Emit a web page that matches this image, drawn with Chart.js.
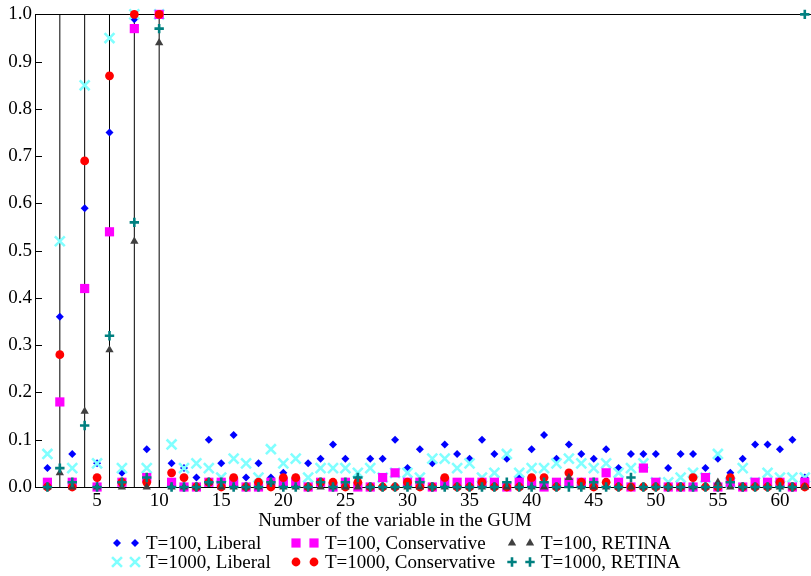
<!DOCTYPE html>
<html>
<head>
<meta charset="utf-8">
<title>Selection frequency per GUM variable</title>
<script src="https://cdn.jsdelivr.net/npm/chart.js@4.4.1/dist/chart.umd.min.js"></script>
<style>
	html, body { margin: 0; padding: 0; overflow: hidden; background: #ffffff; }
	canvas { display: block; }
</style>
</head>
<body>
<canvas id="canvas" width="811" height="576"></canvas>
<script>

// variables that really belong to the GUM (vertical markers)
const relevant_vars = [2, 4, 6, 8, 10];
const x_tick_values = [5, 10, 15, 20, 25, 30, 35, 40, 45, 50, 55, 60];

// selection frequency per variable 1..62
const liberal_100 = [
	0.04, 0.36, 0.07, 0.59, 0.05, 0.75, 0.03, 0.99, 0.08, 1.00,
	0.05, 0.04, 0.02, 0.10, 0.05, 0.11, 0.02, 0.05, 0.02, 0.03,
	0.02, 0.05, 0.06, 0.09, 0.06, 0.02, 0.06, 0.06, 0.10, 0.04,
	0.08, 0.05, 0.09, 0.07, 0.06, 0.10, 0.07, 0.06, 0.02, 0.08,
	0.11, 0.06, 0.09, 0.07, 0.06, 0.08, 0.04, 0.07, 0.07, 0.07,
	0.04, 0.07, 0.07, 0.04, 0.06, 0.03, 0.06, 0.09, 0.09, 0.08,
	0.10, 0.02
];
const liberal_1000 = [
	0.07, 0.52, 0.04, 0.85, 0.05, 0.95, 0.04, 1.00, 0.04, 1.00,
	0.09, 0.04, 0.05, 0.04, 0.02, 0.06, 0.05, 0.02, 0.08, 0.05,
	0.06, 0.02, 0.04, 0.04, 0.04, 0.03, 0.04, 0.02, 0.03, 0.03,
	0.02, 0.06, 0.06, 0.04, 0.05, 0.02, 0.03, 0.07, 0.03, 0.04,
	0.04, 0.05, 0.06, 0.05, 0.04, 0.05, 0.03, 0.04, 0.05, 0.01,
	0.01, 0.02, 0.03, 0.02, 0.07, 0.01, 0.04, 0.01, 0.03, 0.02,
	0.02, 0.02
];
const conservative_100 = [
	0.01, 0.18, 0.01, 0.42, 0.00, 0.54, 0.01, 0.97, 0.02, 1.00,
	0.01, 0.00, 0.00, 0.01, 0.01, 0.01, 0.00, 0.00, 0.01, 0.01,
	0.01, 0.00, 0.01, 0.00, 0.01, 0.00, 0.00, 0.02, 0.03, 0.01,
	0.01, 0.00, 0.01, 0.01, 0.01, 0.01, 0.01, 0.00, 0.01, 0.01,
	0.00, 0.01, 0.01, 0.01, 0.01, 0.03, 0.01, 0.00, 0.04, 0.01,
	0.00, 0.00, 0.00, 0.02, 0.00, 0.01, 0.00, 0.01, 0.01, 0.01,
	0.00, 0.01
];
const conservative_1000 = [
	0.00, 0.28, 0.00, 0.69, 0.02, 0.87, 0.01, 1.00, 0.01, 1.00,
	0.03, 0.02, 0.00, 0.01, 0.00, 0.02, 0.00, 0.01, 0.00, 0.02,
	0.02, 0.00, 0.01, 0.01, 0.00, 0.01, 0.00, 0.00, 0.00, 0.01,
	0.00, 0.00, 0.02, 0.00, 0.00, 0.01, 0.00, 0.00, 0.00, 0.02,
	0.02, 0.00, 0.03, 0.01, 0.00, 0.01, 0.00, 0.00, 0.00, 0.00,
	0.00, 0.00, 0.02, 0.00, 0.00, 0.02, 0.00, 0.00, 0.00, 0.01,
	0.00, 0.00
];
const retina_100 = [
	0.00, 0.03, 0.00, 0.16, 0.00, 0.29, 0.00, 0.52, 0.00, 0.94,
	0.00, 0.00, 0.00, 0.01, 0.00, 0.00, 0.00, 0.00, 0.01, 0.00,
	0.00, 0.00, 0.00, 0.00, 0.00, 0.00, 0.00, 0.00, 0.00, 0.00,
	0.00, 0.00, 0.00, 0.00, 0.00, 0.00, 0.00, 0.00, 0.00, 0.00,
	0.00, 0.00, 0.02, 0.00, 0.00, 0.00, 0.00, 0.00, 0.00, 0.00,
	0.00, 0.00, 0.00, 0.00, 0.01, 0.00, 0.00, 0.00, 0.00, 0.00,
	0.00, 0.00
];
const retina_1000 = [
	0.00, 0.04, 0.01, 0.13, 0.00, 0.32, 0.01, 0.56, 0.02, 0.97,
	0.00, 0.00, 0.00, 0.01, 0.01, 0.00, 0.00, 0.00, 0.01, 0.00,
	0.00, 0.00, 0.01, 0.00, 0.01, 0.02, 0.00, 0.00, 0.00, 0.00,
	0.01, 0.00, 0.00, 0.00, 0.00, 0.00, 0.00, 0.01, 0.00, 0.00,
	0.01, 0.00, 0.00, 0.00, 0.01, 0.00, 0.00, 0.02, 0.00, 0.00,
	0.00, 0.00, 0.00, 0.00, 0.00, 0.01, 0.00, 0.00, 0.00, 0.00,
	0.00, 1.00
];

const x_title = "Number of the variable in the GUM";

(function() {

	Chart.defaults.font.family = "'Liberation Serif', 'Times New Roman', serif";
	Chart.defaults.font.size = 19;
	Chart.defaults.color = "#000000";

	function to_points(values) {
		return values.map(function (v, i) { return {x: i + 1, y: v}; });
	}

	// one vertical segment 0..1 per relevant variable, split by gaps
	var relevant_points = [];
	relevant_vars.forEach(function (v) {
		relevant_points.push({x: v, y: 0}, {x: v, y: 1}, {x: v, y: null});
	});

	function series(label, values, style) {
		return {
			type: "scatter",
			label: label,
			data: to_points(values),
			pointStyle: style.shape,
			pointRadius: style.radius,
			pointBackgroundColor: style.color,
			pointBorderColor: style.color,
			pointBorderWidth: style.line,
			order: style.order,
			clip: false
		};
	}

	var styles = {
		lib100:  {shape: "rectRot",  radius: 4,   color: "#0000ff", line: 0,   order: 6},
		lib1000: {shape: "crossRot", radius: 7,   color: "#80ffff", line: 2.6, order: 5},
		con100:  {shape: "rect",     radius: 6.5, color: "#ff00ff", line: 0,   order: 4},
		con1000: {shape: "circle",   radius: 4.4, color: "#ff0000", line: 0,   order: 3},
		ret100:  {shape: "triangle", radius: 4.8, color: "#404040", line: 0,   order: 2},
		ret1000: {shape: "cross",    radius: 4.7, color: "#008080", line: 2.6, order: 1}
	};

	var datasets = [
		{
			type: "line",
			label: "relevant",
			data: relevant_points,
			borderColor: "#000000",
			borderWidth: 1,
			pointRadius: 0,
			spanGaps: false,
			order: 10
		},
		series("T=100, Liberal", liberal_100, styles.lib100),
		series("T=1000, Liberal", liberal_1000, styles.lib1000),
		series("T=100, Conservative", conservative_100, styles.con100),
		series("T=1000, Conservative", conservative_1000, styles.con1000),
		series("T=100, RETINA", retina_100, styles.ret100),
		series("T=1000, RETINA", retina_1000, styles.ret1000)
	];

	// legend grid: two sample markers then the text
	var legend_rows = [
		[["T=100, Liberal", styles.lib100], ["T=100, Conservative", styles.con100], ["T=100, RETINA", styles.ret100]],
		[["T=1000, Liberal", styles.lib1000], ["T=1000, Conservative", styles.con1000], ["T=1000, RETINA", styles.ret1000]]
	];
	var legend_cols = [117, 296, 512];
	var legend_y = [543, 562];

	function draw_marker(ctx, style, x, y) {
		ctx.save();
		ctx.fillStyle = style.color;
		ctx.strokeStyle = style.color;
		ctx.lineWidth = style.line;
		Chart.helpers.drawPoint(ctx, {
			pointStyle: style.shape,
			radius: style.radius,
			rotation: 0,
			borderWidth: style.line
		}, x, y);
		ctx.restore();
	}

	var gum_decor = {
		id: "gum_decor",
		beforeDatasetsDraw: function (chart) {
			var ctx = chart.ctx;
			var area = chart.chartArea;
			var xs = chart.scales.x, ys = chart.scales.y;
			ctx.save();
			ctx.strokeStyle = "#000000";
			ctx.lineWidth = 1;
			ctx.beginPath();
			// top border
			ctx.moveTo(area.left, Math.round(area.top) + 0.5);
			ctx.lineTo(area.right, Math.round(area.top) + 0.5);
			// inward ticks
			ys.ticks.forEach(function (t) {
				var py = Math.round(ys.getPixelForValue(t.value)) + 0.5;
				ctx.moveTo(area.left, py);
				ctx.lineTo(area.left + 7, py);
			});
			xs.ticks.forEach(function (t) {
				var px = Math.round(xs.getPixelForValue(t.value)) + 0.5;
				ctx.moveTo(px, area.bottom);
				ctx.lineTo(px, area.bottom - 7);
			});
			ctx.stroke();
			ctx.restore();
		},
		afterDraw: function (chart) {
			var ctx = chart.ctx;
			ctx.save();
			ctx.font = "19px 'Liberation Serif', 'Times New Roman', serif";
			ctx.fillStyle = "#000000";
			ctx.textBaseline = "middle";
			ctx.textAlign = "center";
			ctx.fillText(x_title, 395, 521);

			ctx.textAlign = "left";
			legend_rows.forEach(function (row, r) {
				row.forEach(function (entry, c) {
					var x0 = legend_cols[c], y0 = legend_y[r];
					draw_marker(ctx, entry[1], x0, y0);
					draw_marker(ctx, entry[1], x0 + 18, y0);
					ctx.fillText(entry[0], x0 + 29, y0 + 1);
				});
			});
			ctx.restore();
		}
	};

	var chart_config = {
		type: "scatter",
		data: { datasets: datasets },
		options: {
			responsive: false,
			animation: false,
			layout: { autoPadding: false, padding: { top: 14, left: 0, right: 0, bottom: 0 } },
			plugins: {
				legend: { display: false },
				tooltip: { enabled: false }
			},
			scales: {
				x: {
					type: "linear",
					min: 0,
					max: 62.5,
					grid: { display: false, drawTicks: false },
					border: { display: true, color: "#000000", width: 1 },
					ticks: {
						autoSkip: false,
						maxRotation: 0,
						padding: 3
					},
					afterBuildTicks: function (scale) {
						scale.ticks = x_tick_values.map(function (v) { return {value: v}; });
					},
					afterFit: function (scale) { scale.height = 89; }
				},
				y: {
					min: 0,
					max: 1,
					grid: { display: false, drawTicks: false },
					border: { display: true, color: "#000000", width: 1 },
					ticks: {
						stepSize: 0.1,
						padding: 3,
						callback: function (v) { return v.toFixed(1); }
					},
					afterFit: function (scale) { scale.width = 35; }
				}
			}
		},
		plugins: [gum_decor]
	};

	var ctx = document.getElementById("canvas").getContext("2d");
	window.gum_chart = new Chart(ctx, chart_config);
})();
</script>
</body>
</html>
